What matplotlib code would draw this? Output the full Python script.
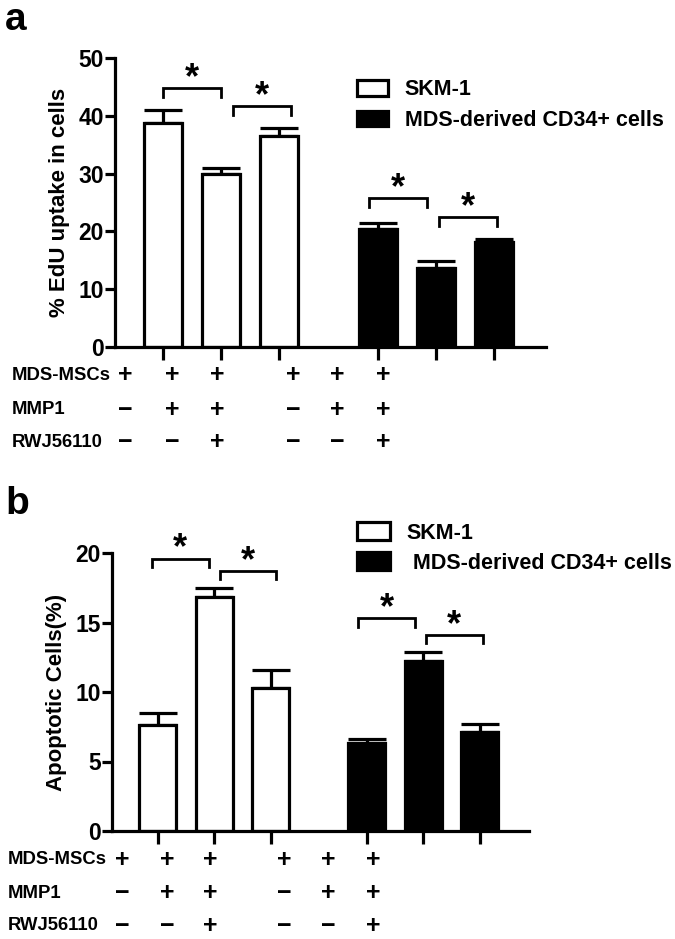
import numpy as np
import matplotlib
matplotlib.use("Agg")
import matplotlib.pyplot as plt
from matplotlib.patches import Patch

plt.rcParams["font.family"] = ["Liberation Sans", "DejaVu Sans"]
plt.rcParams["font.weight"] = "bold"

# bar positions: three SKM-1 bars, gap, three CD34+ bars
positions = [0, 1, 2, 3.7, 4.7, 5.7]
series_names = ["SKM-1", "MDS-derived CD34+ cells"]

# panel a: % EdU uptake
edu_skm = [38.8, 30.0, 36.5]
edu_skm_err = [2.2, 0.9, 1.4]
edu_cd34 = [20.5, 13.6, 18.1]
edu_cd34_err = [0.9, 1.3, 0.6]

# panel b: apoptotic cells
apo_skm = [7.6, 16.8, 10.3]
apo_skm_err = [0.9, 0.7, 1.3]
apo_cd34 = [6.3, 12.2, 7.1]
apo_cd34_err = [0.35, 0.7, 0.6]

# significance brackets: (left bar, right bar, top, leg bottom)
brackets_a = [(0.0, 1.0, 44.8, 43.2), (1.2, 2.2, 41.7, 40.1),
              (3.55, 4.55, 25.8, 24.2), (4.75, 5.75, 22.5, 21.0)]
brackets_b = [(-0.1, 0.9, 19.6, 19.0), (1.1, 2.1, 18.7, 18.1),
              (3.55, 4.55, 15.3, 14.7), (4.75, 5.75, 14.1, 13.5)]

# treatment table
row_names = ["MDS-MSCs", "MMP1", "RWJ56110"]
row_signs = [["+", "+", "+", "+", "+", "+"],
             ["\u2212", "+", "+", "\u2212", "+", "+"],
             ["\u2212", "\u2212", "+", "\u2212", "\u2212", "+"]]

W, H = 675, 939
fig = plt.figure(figsize=(W / 100, H / 100), dpi=100)

LW = 2.3


def panel(rect, xlim, skm, skm_err, cd34, cd34_err, ymax, step, ylabel, brackets):
    ax = fig.add_axes(rect)
    x = np.array(positions)
    vals = skm + cd34
    errs = skm_err + cd34_err
    colors = ["white"] * 3 + ["black"] * 3
    ax.bar(x, vals, width=0.66, color=colors, edgecolor="black", linewidth=LW, zorder=2)
    ax.errorbar(x, vals, yerr=[np.zeros(6), errs], fmt="none", ecolor="black",
                elinewidth=LW, capsize=14, capthick=LW, zorder=1)
    for x0, x1, top, bot in brackets:
        ax.plot([x0, x0, x1, x1], [bot, top, top, bot], color="black", lw=2.0,
                solid_joinstyle="miter", clip_on=False)
        ax.annotate("*", xy=((x0 + x1) / 2, top), xytext=(0, 0), textcoords="offset points",
                    ha="center", va="baseline", fontsize=26, fontweight="bold")
    ax.set_xlim(*xlim)
    ax.set_ylim(0, ymax)
    ax.set_yticks(np.arange(0, ymax + 0.1, step))
    ax.set_xticks(x)
    ax.set_xticklabels([])
    for s in ["top", "right"]:
        ax.spines[s].set_visible(False)
    for s in ["left", "bottom"]:
        ax.spines[s].set_linewidth(LW)
    ax.tick_params(axis="y", length=7, width=LW, labelsize=16.5, pad=1)
    ax.tick_params(axis="x", length=9, width=LW)
    for t in ax.get_yticklabels():
        t.set_fontweight("bold")
    ax.set_ylabel(ylabel, fontsize=16, fontweight="bold", labelpad=6)
    return ax


ax_a = panel([115 / W, 1 - 347 / H, 431 / W, 289 / H], (-0.83, 6.6),
             edu_skm, edu_skm_err, edu_cd34, edu_cd34_err, 50, 10,
             "% EdU uptake in cells", brackets_a)
ax_b = panel([112 / W, 1 - 831 / H, 417 / W, 278 / H], (-0.81, 6.57),
             apo_skm, apo_skm_err, apo_cd34, apo_cd34_err, 20, 5,
             "Apoptotic Cells(%)", brackets_b)

handles = [Patch(facecolor="white", edgecolor="black", linewidth=LW),
           Patch(facecolor="black", edgecolor="black", linewidth=LW)]
fig.legend(handles, series_names, loc="upper left", bbox_to_anchor=(338 / W, 1 - 60 / H),
           frameon=False, handlelength=1.4, handleheight=0.75,
           handletextpad=0.8, labelspacing=0.45, prop={"weight": "bold", "size": 15.5})
fig.legend(handles, ["SKM-1", " MDS-derived CD34+ cells"], loc="upper left",
           bbox_to_anchor=(338 / W, 1 - 503 / H),
           frameon=False, handlelength=1.5, handleheight=0.9,
           handletextpad=0.8, labelspacing=0.4, prop={"weight": "bold", "size": 15.5})

# treatment tables
tables = [(12, [375, 410, 442], [125, 172, 217, 293, 337, 383]),
          (8, [860, 893, 926], [122, 167, 210, 284, 328, 373])]
for lx, rows_y, sign_x in tables:
    for name, y, signs in zip(row_names, rows_y, row_signs):
        fig.text(lx / W, 1 - y / H, name, fontsize=13.3, fontweight="bold",
                 ha="left", va="center")
        for sx, s in zip(sign_x, signs):
            fig.text(sx / W, 1 - y / H, s, fontsize=18, fontweight="bold",
                     ha="center", va="center")

fig.text(5 / W, 1 - 2 / H, "a", fontsize=28, fontweight="bold", ha="left", va="top")
fig.text(5 / W, 1 - 486 / H, "b", fontsize=28, fontweight="bold", ha="left", va="top")

fig.savefig("out.png", dpi=100, facecolor="white")
